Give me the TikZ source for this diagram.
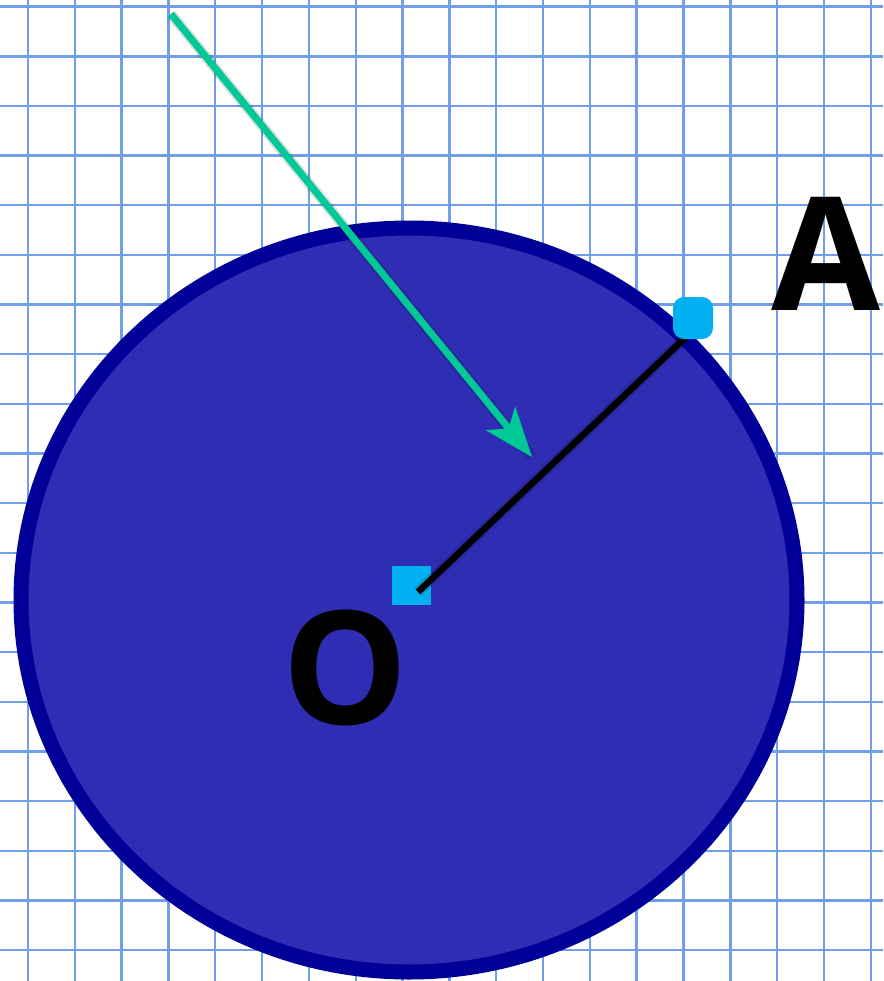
\documentclass[tikz,border=0pt]{standalone}
\usepackage{fontspec}
\setmainfont{Open Sans}
\usetikzlibrary{arrows.meta}
\definecolor{gridblue}{RGB}{112,158,232}
\definecolor{discfill}{RGB}{46,45,180}
\definecolor{discring}{RGB}{0,0,153}
\definecolor{markcyan}{RGB}{0,176,240}
\definecolor{arrowgreen}{RGB}{0,201,151}
\begin{document}
\begin{tikzpicture}[x=1pt,y=-1pt,>={Stealth[length=50pt,width=38pt,inset=13pt,line width=0pt]},
  letter/.style={font=\fontsize{158}{158}\selectfont\bfseries,inner sep=0pt},
  marksq/.style={fill=markcyan,minimum size=39pt,inner sep=0pt},
  markdot/.style={fill=markcyan,minimum width=40pt,minimum height=42pt,rounded corners=11pt,inner sep=0pt},
  softshadow/.style={black,opacity=0.12,line width=11pt,shift={(3,3)}}]
\useasboundingbox (0,0) rectangle (883,981);
\fill[white] (0,0) rectangle (883,981);
% squared paper
\foreach \i in {0,...,18} \draw[gridblue,line width=2.4pt] (28+46.82*\i,0) -- (28+46.82*\i,981);
\foreach \j in {0,...,19} \draw[gridblue,line width=2.4pt] (0,6.7+49.65*\j) -- (883,6.7+49.65*\j);

\draw[fill=discfill,draw=discring,line width=15pt] (409,600) ellipse (388pt and 372pt);

\node[marksq] (o) at (411.5,585.5) {};
\coordinate (r1) at (418,592);
\coordinate (r2) at (688,335);
\draw[softshadow] (r1) -- (r2);
\draw[line width=6.5pt] (r1) -- (r2);
\node[markdot] (a) at (693,318) {};

\node[letter] (lo) at (345,668) {O};
\node[letter] (la) at (825.5,254) {A};

\coordinate (s) at (171,14);
\coordinate (t) at (532,457);
\draw[softshadow] (s) -- (t);
\draw[->,arrowgreen,line width=7pt] (s) -- (t);
\end{tikzpicture}
\end{document}
